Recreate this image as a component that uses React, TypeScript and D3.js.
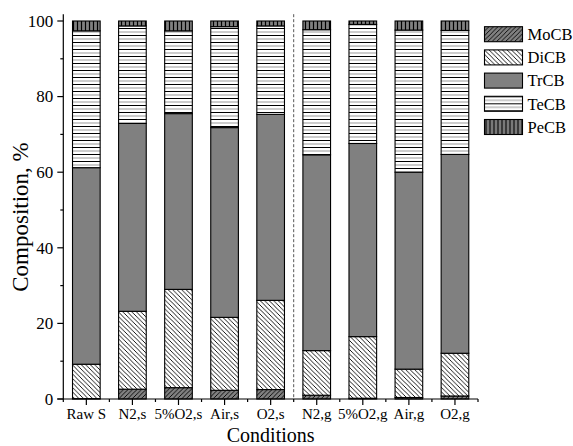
import { useEffect, useRef } from 'react'
import * as d3 from 'd3'

// Conditions along the x axis
const conditions = ['Raw S', 'N2,s', '5%O2,s', 'Air,s', 'O2,s', 'N2,g', '5%O2,g', 'Air,g', 'O2,g']

// Composition (%) of each congener group per condition
const moCB = [0.1, 2.6, 3.0, 2.3, 2.5, 1.0, 0.2, 0.4, 0.8]
const diCB = [9.1, 20.6, 26.0, 19.3, 23.6, 11.8, 16.3, 7.5, 11.3]
const trCB = [52.0, 49.7, 46.5, 50.2, 49.2, 51.8, 51.1, 52.1, 52.6]
const teCB = [36.2, 25.8, 21.9, 26.7, 23.4, 33.1, 31.5, 37.6, 32.8]
const peCB = [2.6, 1.3, 2.6, 1.5, 1.3, 2.3, 0.9, 2.4, 2.5]

const seriesNames = ['MoCB', 'DiCB', 'TrCB', 'TeCB', 'PeCB']
const yTicks = [0, 20, 40, 60, 80, 100]
const yMinorTicks = [10, 30, 50, 70, 90]

const FONT = "'Liberation Serif', 'Times New Roman', serif"

const App = () => {
  const svgRef = useRef<SVGSVGElement | null>(null)
  const width = 573
  const height = 446
  const margin = { left: 63.3, right: 95, top: 21, bottom: 47 }

  useEffect(() => {
    const rows = conditions.map((c, i) => ({
      cond: c,
      MoCB: moCB[i],
      DiCB: diCB[i],
      TrCB: trCB[i],
      TeCB: teCB[i],
      PeCB: peCB[i],
    }))

    const x = d3
      .scaleBand()
      .domain(conditions)
      .range([margin.left, width - margin.right])
      .paddingInner(0.4)
      .paddingOuter(0.2)
    const y = d3
      .scaleLinear()
      .domain([0, 100])
      .range([height - margin.bottom, margin.top])

    const stacked = d3.stack<any>().keys(seriesNames)(rows)

    const svg = d3.select(svgRef.current)
    svg.selectAll('*').remove()

    // Hatch patterns
    const defs = svg.append('defs')
    const mo = defs
      .append('pattern')
      .attr('id', 'p-mo')
      .attr('patternUnits', 'userSpaceOnUse')
      .attr('width', 4.5)
      .attr('height', 4.5)
    mo.append('rect').attr('width', 4.5).attr('height', 4.5).attr('fill', '#808080')
    mo.append('path')
      .attr('d', 'M-1,5.5 L5.5,-1 M-1,1 L1,-1 M3.5,5.5 L5.5,3.5')
      .attr('stroke', '#000')
      .attr('stroke-width', 1)
      .attr('shape-rendering', 'crispEdges')

    const di = defs
      .append('pattern')
      .attr('id', 'p-di')
      .attr('patternUnits', 'userSpaceOnUse')
      .attr('width', 4.5)
      .attr('height', 4.5)
    di.append('rect').attr('width', 4.5).attr('height', 4.5).attr('fill', '#fff')
    di.append('path')
      .attr('d', 'M-1,-1 L5.5,5.5 M-1,3.5 L1,5.5 M3.5,-1 L5.5,1')
      .attr('stroke', '#000')
      .attr('stroke-width', 1)
      .attr('shape-rendering', 'crispEdges')

    const te = defs
      .append('pattern')
      .attr('id', 'p-te')
      .attr('patternUnits', 'userSpaceOnUse')
      .attr('width', 8)
      .attr('height', 7)
    te.append('rect').attr('width', 8).attr('height', 7).attr('fill', '#fff')
    te.append('line').attr('x1', 0).attr('x2', 8).attr('y1', 0.5).attr('y2', 0.5).attr('stroke', '#000')
    te.append('line').attr('x1', 0).attr('x2', 8).attr('y1', 4).attr('y2', 4).attr('stroke', '#999')

    const pe = defs
      .append('pattern')
      .attr('id', 'p-pe')
      .attr('patternUnits', 'userSpaceOnUse')
      .attr('width', 4)
      .attr('height', 8)
    pe.append('rect').attr('width', 4).attr('height', 8).attr('fill', '#808080')
    pe.append('line').attr('x1', 1.5).attr('x2', 1.5).attr('y1', 0).attr('y2', 8).attr('stroke', '#000').attr('stroke-width', 1.2)

    const fills: Record<string, string> = {
      MoCB: 'url(#p-mo)',
      DiCB: 'url(#p-di)',
      TrCB: '#808080',
      TeCB: 'url(#p-te)',
      PeCB: 'url(#p-pe)',
    }

    // Stacked bars
    svg
      .append('g')
      .selectAll('g')
      .data(stacked)
      .enter()
      .append('g')
      .attr('fill', (d) => fills[d.key])
      .selectAll('rect')
      .data((d) => d)
      .enter()
      .append('rect')
      .attr('x', (d: any) => x(d.data.cond) as number)
      .attr('width', x.bandwidth())
      .attr('y', (d) => y(d[1]))
      .attr('height', (d) => y(d[0]) - y(d[1]))
      .attr('stroke', '#000')
      .attr('stroke-width', 1.1)

    // Dashed separator between solid and gas phase
    const sepX = ((x('O2,s') as number) + (x('N2,g') as number) + x.bandwidth()) / 2
    svg
      .append('line')
      .attr('x1', sepX)
      .attr('x2', sepX)
      .attr('y1', y(101.8))
      .attr('y2', y(0))
      .attr('stroke', '#555')
      .attr('stroke-width', 1)
      .attr('stroke-dasharray', '3,2')

    // Y axis
    const yAxis = svg.append('g').attr('transform', `translate(${margin.left},0)`)
    yAxis
      .append('line')
      .attr('y1', y(101.8))
      .attr('y2', y(0))
      .attr('stroke', '#000')
      .attr('stroke-width', 1.2)
    yAxis
      .selectAll('.maj')
      .data(yTicks)
      .enter()
      .append('line')
      .attr('x1', -6)
      .attr('x2', 0)
      .attr('y1', (d) => y(d))
      .attr('y2', (d) => y(d))
      .attr('stroke', '#000')
      .attr('stroke-width', 1.2)
    yAxis
      .selectAll('.min')
      .data(yMinorTicks)
      .enter()
      .append('line')
      .attr('x1', -3)
      .attr('x2', 0)
      .attr('y1', (d) => y(d))
      .attr('y2', (d) => y(d))
      .attr('stroke', '#000')
      .attr('stroke-width', 1.2)
    yAxis
      .selectAll('text')
      .data(yTicks)
      .enter()
      .append('text')
      .attr('x', -10)
      .attr('y', (d) => y(d))
      .attr('dy', '0.34em')
      .attr('text-anchor', 'end')
      .style('font-family', FONT)
      .style('font-size', '17px')
      .text((d) => d)

    // X axis
    const xAxis = svg.append('g').attr('transform', `translate(0,${y(0)})`)
    xAxis
      .append('line')
      .attr('x1', margin.left - 6)
      .attr('x2', width - margin.right)
      .attr('stroke', '#000')
      .attr('stroke-width', 1.2)
    xAxis
      .selectAll('.maj')
      .data(conditions)
      .enter()
      .append('line')
      .attr('x1', (d) => (x(d) as number) + x.bandwidth() / 2)
      .attr('x2', (d) => (x(d) as number) + x.bandwidth() / 2)
      .attr('y1', 0)
      .attr('y2', 6)
      .attr('stroke', '#000')
      .attr('stroke-width', 1.2)
    const minorX = d3.range(conditions.length + 1).map((i) => margin.left + i * x.step())
    xAxis
      .selectAll('.min')
      .data(minorX)
      .enter()
      .append('line')
      .attr('x1', (d) => d)
      .attr('x2', (d) => d)
      .attr('y1', 0)
      .attr('y2', 3)
      .attr('stroke', '#000')
      .attr('stroke-width', 1.2)
    xAxis
      .selectAll('text')
      .data(conditions)
      .enter()
      .append('text')
      .attr('x', (d) => (x(d) as number) + x.bandwidth() / 2)
      .attr('y', 20)
      .attr('text-anchor', 'middle')
      .style('font-family', FONT)
      .style('font-size', '15px')
      .text((d) => d)

    // Axis titles
    svg
      .append('text')
      .attr('x', (margin.left + width - margin.right) / 2)
      .attr('y', 441.5)
      .attr('text-anchor', 'middle')
      .style('font-family', FONT)
      .style('font-size', '20px')
      .text('Conditions')
    svg
      .append('text')
      .attr('transform', `translate(28,217) rotate(-90)`)
      .attr('text-anchor', 'middle')
      .style('font-family', FONT)
      .style('font-size', '23px')
      .text('Composition, %')

    // Legend
    const legend = svg
      .append('g')
      .selectAll('g')
      .data(seriesNames)
      .enter()
      .append('g')
      .attr('transform', (d, i) => `translate(484.5,${26.7 + i * 23.2})`)
    legend
      .append('rect')
      .attr('width', 38)
      .attr('height', 15)
      .attr('fill', (d) => fills[d])
      .attr('stroke', '#000')
      .attr('stroke-width', 1.1)
    legend
      .append('text')
      .attr('x', 43)
      .attr('y', 7.5)
      .attr('dy', '0.35em')
      .style('font-family', FONT)
      .style('font-size', '16.5px')
      .text((d) => d)
  }, [])

  return (
    <div style={{ position: 'absolute', left: 0, top: 0 }}>
      <svg ref={svgRef} width={width} height={height} style={{ display: 'block' }} />
    </div>
  )
}

export default App
